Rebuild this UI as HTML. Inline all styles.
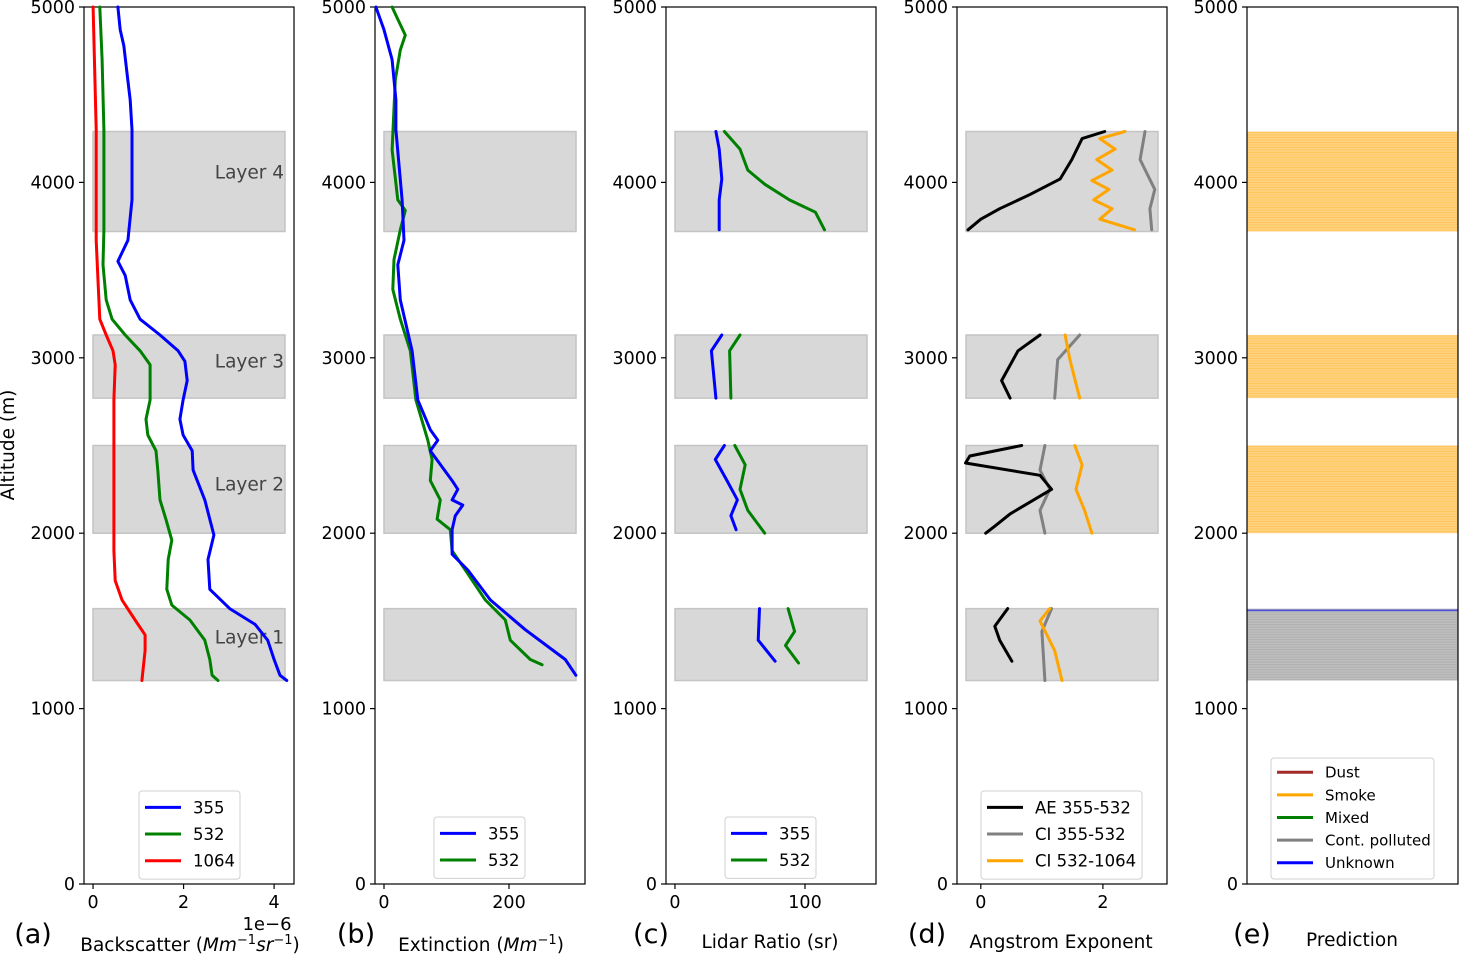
<!DOCTYPE html>
<html><head><meta charset="utf-8"><style>
html,body{margin:0;padding:0;background:#fff;}
svg{display:block;font-family:"DejaVu Sans","Liberation Sans",sans-serif;}
</style></head><body>
<svg id="chart" width="1460" height="955" viewBox="0 0 1460 955"></svg>
<script>
// ---------- data ----------
const layerNames = ["Layer 1","Layer 2","Layer 3","Layer 4"];
const layerBottoms = [1160,2000,2770,3720];
const layerTops = [1570,2500,3130,4290];
const altTicks = [0,1000,2000,3000,4000,5000];

// (a) backscatter (1e-6)
const bscAlt355 = [5000,4870,4780,4580,4470,4300,3900,3670,3550,3470,3330,3220,3130,3040,2980,2870,2760,2650,2560,2470,2360,2190,2080,1990,1850,1680,1570,1480,1390,1280,1190,1160];
const bsc355 = [0.55,0.60,0.68,0.77,0.82,0.86,0.86,0.77,0.55,0.71,0.82,1.04,1.48,1.88,2.03,2.08,1.99,1.92,1.99,2.19,2.21,2.47,2.58,2.67,2.54,2.58,3.02,3.58,3.86,4.0,4.13,4.28];
const bscAlt532 = [5000,4700,4300,3730,3530,3330,3220,3130,3040,2960,2760,2650,2560,2470,2360,2190,2080,1960,1850,1680,1590,1505,1390,1280,1190,1160];
const bsc532 = [0.15,0.2,0.24,0.24,0.22,0.29,0.42,0.71,1.04,1.26,1.26,1.17,1.21,1.39,1.43,1.48,1.61,1.74,1.66,1.63,1.74,2.14,2.47,2.58,2.63,2.76];
const bscAlt1064 = [5000,4300,3670,3440,3220,3130,3040,2960,2760,2470,1900,1730,1620,1505,1420,1330,1160];
const bsc1064 = [0,0.07,0.07,0.11,0.15,0.29,0.44,0.49,0.46,0.46,0.46,0.49,0.64,0.93,1.15,1.15,1.08];
const bscTicks = [0,2,4];

// (b) extinction
const extAlt355 = [5000,4870,4700,4470,4300,3900,3670,3530,3330,3040,2760,2590,2530,2470,2300,2250,2190,2160,2100,2020,1880,1790,1620,1450,1280,1190];
const ext355 = [-13,0,13,19,19,29,32,22,26,45,54,74,86,74,109,118,109,126,114,109,109,134,170,226,290,307];
const extAlt532 = [5000,4930,4840,4755,4585,4185,3900,3840,3730,3560,3390,3220,3040,2760,2530,2420,2300,2190,2080,2020,1900,1790,1620,1505,1390,1280,1250];
const ext532 = [13,22,34,26,18,13,22,34,26,16,14,26,42,51,70,77,74,90,85,106,109,130,162,194,202,234,253];
const extTicks = [0,200];

// (c) lidar ratio (null breaks between layers)
const lrAlt355 = [4290,4190,4020,3900,3730,null,3130,3040,2770,null,2500,2420,2300,2190,2100,2020,null,1570,1390,1270];
const lr355 = [31.5,34,36,34,34,null,36,28,31.5,null,38,31,40,48,43,47,null,65,64,77];
const lrAlt532 = [4290,4190,4070,3990,3900,3830,3730,null,3130,3040,2770,null,2500,2390,2250,2130,2000,null,1570,1440,1360,1260];
const lr532 = [38,50,56,69,88,108,115,null,50,42,43,null,46,54,50,56,69,null,87,92,85,95];
const lrTicks = [0,100];

// (d) Angstrom / colour indices
const aeAlt = [4290,4250,4130,4020,3930,3850,3790,3730,null,3130,3040,2870,2770,null,2500,2440,2400,2330,2250,2110,2040,2000,null,1570,1470,1390,1270];
const ae = [2.03,1.66,1.49,1.3,0.8,0.31,0,-0.21,null,0.97,0.61,0.34,0.48,null,0.67,-0.18,-0.25,0.97,1.16,0.48,0.23,0.08,null,0.44,0.23,0.31,0.51];
const ci355Alt = [4290,4130,3960,3850,3730,null,3130,2990,2770,null,2500,2360,2250,2130,2000,null,1570,1440,1160];
const ci355 = [2.69,2.61,2.85,2.77,2.8,null,1.62,1.26,1.21,null,1.05,0.97,1.13,0.97,1.05,null,1.16,1.0,1.05];
const ci532Alt = [4290,4250,4190,4130,4070,4010,3960,3900,3850,3790,3730,null,3130,2990,2770,null,2500,2390,2250,2130,2000,null,1570,1500,1330,1160];
const ci532 = [2.36,1.95,2.2,1.9,2.15,1.82,2.1,1.85,2.15,1.95,2.52,null,1.38,1.46,1.62,null,1.54,1.66,1.56,1.7,1.82,null,1.13,0.97,1.21,1.33];
const aeTicks = [0,2];

// (e) prediction bands
const predClass = ["Cont. polluted","Smoke","Smoke","Smoke"];
const legendA = ["355","532","1064"];
const legendB = ["355","532"];
const legendD = ["AE 355-532","CI 355-532","CI 532-1064"];
const legendE = ["Dust","Smoke","Mixed","Cont. polluted","Unknown"];
const classColors = {"Dust":"#a52a2a","Smoke":"#ffa500","Mixed":"#008000","Cont. polluted":"#808080","Unknown":"#0000ff"};

// ---------- drawing ----------
const svg = document.getElementById('chart');
const NS = 'http://www.w3.org/2000/svg';
function mk(tag, attrs, parent){ const e=document.createElementNS(NS,tag); for(const k in attrs) e.setAttribute(k,attrs[k]); (parent||svg).appendChild(e); return e; }
const Y0 = 884, YT = 7;
function yScale(a){ return Y0 - (a/5000)*(Y0-YT); }

const panels = [
 {id:'a', left:84, right:294, xmin:-0.2, xmax:4.44, ticks:bscTicks, letter:'(a)', lx:33},
 {id:'b', left:375, right:585, xmin:-14.4, xmax:321.6, ticks:extTicks, letter:'(b)', lx:356},
 {id:'c', left:666, right:876, xmin:-6.9, xmax:154.6, ticks:lrTicks, letter:'(c)', lx:651},
 {id:'d', left:957, right:1167, xmin:-0.39, xmax:3.05, ticks:aeTicks, letter:'(d)', lx:927},
 {id:'e', left:1247, right:1458, xmin:0, xmax:1, ticks:[], letter:'(e)', lx:1252}
];
panels.forEach(p=>{ p.x = v => p.left + (v-p.xmin)/(p.xmax-p.xmin)*(p.right-p.left); });

function line(p, alts, vals, color, name){
  let d='', pen=false;
  for(let i=0;i<alts.length;i++){
    if(alts[i]===null||vals[i]===null){pen=false;continue;}
    d += (pen?'L':'M') + p.x(vals[i]).toFixed(1)+','+yScale(alts[i]).toFixed(1);
    pen=true;
  }
  const e = mk('path',{d:d,fill:'none',stroke:color,'stroke-width':3,'stroke-linejoin':'round','stroke-linecap':'round'});
  
  
}

function legend(x,y,w,entries,colors,rowH,fs,name){
  const g = mk('g',{});
  
  
  mk('rect',{x:x,y:y,width:w,height:entries.length*rowH+8,rx:3,fill:'#fff',stroke:'#d0d0d0'},g);
  entries.forEach((t,i)=>{
    const cy = y+3+rowH*(i+0.5);
    const l = mk('line',{x1:x+6,x2:x+42,y1:cy,y2:cy,stroke:colors[i],'stroke-width':3},g);
    
    
    const tx = mk('text',{x:x+54,y:cy+fs*0.36,'font-size':fs,fill:'#000'},g);
    tx.textContent = t;
    
    
  });
}

panels.forEach(p=>{
  const g = mk('g',{});
  
  
  const L = p.left+9, R = p.right-9;
  if(p.id!=='e'){
    layerBottoms.forEach((b,i)=>{
      const r = mk('rect',{x:L,y:yScale(layerTops[i]),width:R-L,height:yScale(b)-yScale(layerTops[i]),fill:'#d8d8d8',stroke:'#c4c4c4','stroke-width':1.5},g);
      
      
    });
  } else {
    layerBottoms.forEach((b,i)=>{
      const col = classColors[predClass[i]];
      const y1 = yScale(layerTops[i]), y2 = yScale(b);
      const r = mk('rect',{x:p.left,y:y1,width:p.right-p.left,height:y2-y1,fill:col,'fill-opacity':0.5},g);
      
      
      for(let yy=y1+1; yy<y2; yy+=2.5){
        mk('line',{x1:p.left,x2:p.right,y1:yy,y2:yy,stroke:col,'stroke-opacity':0.25,'stroke-width':1},g);
      }
    });
    const ub = mk('line',{x1:p.left,x2:p.right,y1:yScale(1560),y2:yScale(1560),stroke:'#0000ff','stroke-opacity':0.6,'stroke-width':1.5},g);
    
    
  }
  const fr = mk('rect',{x:p.left,y:YT,width:p.right-p.left,height:Y0-YT,fill:'none',stroke:'#000','stroke-width':1.2},g);
  
  
  altTicks.forEach(a=>{
    const yy = yScale(a);
    mk('line',{x1:p.left-5,x2:p.left,y1:yy,y2:yy,stroke:'#000','stroke-width':1.2},g);
    const t = mk('text',{x:p.left-9,y:yy+6,'text-anchor':'end','font-size':17.5},g);
    t.textContent = a;
    
    
  });
  p.ticks.forEach(v=>{
    const xx = p.x(v);
    mk('line',{x1:xx,x2:xx,y1:Y0,y2:Y0+5,stroke:'#000','stroke-width':1.2},g);
    const t = mk('text',{x:xx,y:Y0+24,'text-anchor':'middle','font-size':17.5},g);
    t.textContent = v;
    
    
  });
  const lt = mk('text',{x:p.lx,y:943,'text-anchor':'middle','font-size':27},g);
  lt.textContent = p.letter;
  
  
});

const pa=panels[0], pb=panels[1], pc=panels[2], pd=panels[3], pe=panels[4];
layerNames.forEach((n,i)=>{
  const t = mk('text',{x:284,y:yScale((layerBottoms[i]+layerTops[i])/2)+1+(i===3?-4:0)+(i===0?-2:0),'text-anchor':'end','font-size':18.5,fill:'#444'});
  t.textContent = n;
  
  
});

line(pa,bscAlt1064,bsc1064,'#ff0000','backscatter-1064');
line(pa,bscAlt532,bsc532,'#008000','backscatter-532');
line(pa,bscAlt355,bsc355,'#0000ff','backscatter-355');
line(pb,extAlt532,ext532,'#008000','extinction-532');
line(pb,extAlt355,ext355,'#0000ff','extinction-355');
line(pc,lrAlt355,lr355,'#0000ff','lidar-ratio-355');
line(pc,lrAlt532,lr532,'#008000','lidar-ratio-532');
line(pd,ci355Alt,ci355,'#808080','ci-355-532');
line(pd,aeAlt,ae,'#000000','ae-355-532');
line(pd,ci532Alt,ci532,'#ffa500','ci-532-1064');

legend(139,791,101,legendA,['#0000ff','#008000','#ff0000'],26.7,16.5,'legend-a');
legend(434,817,91,legendB,['#0000ff','#008000'],26.7,16.5,'legend-b');
legend(725,817,91,legendB,['#0000ff','#008000'],26.7,16.5,'legend-c');
legend(981,791,161,legendD,['#000','#808080','#ffa500'],26.7,16.5,'legend-d');
legend(1271,758,163,legendE,legendE.map(c=>classColors[c]),22.6,15,'legend-e');

function txt(x,y,s,fs,name,extra){ const t=mk('text',Object.assign({x:x,y:y,'text-anchor':'middle','font-size':fs},extra||{})); t.innerHTML=s;   return t; }
txt(190,951,'Backscatter (<tspan font-style="italic">Mm</tspan><tspan font-size="13" dy="-7">−1</tspan><tspan font-style="italic" dy="7">sr</tspan><tspan font-size="13" dy="-7">−1</tspan><tspan dy="7">)</tspan>',18.5,'x-axis-title-a');
txt(267,930,'1e−6',18,'x-offset-label');
txt(481,951,'Extinction (<tspan font-style="italic">Mm</tspan><tspan font-size="13" dy="-7">−1</tspan><tspan dy="7">)</tspan>',18.5,'x-axis-title-b');
txt(770,948,'Lidar Ratio (sr)',18.5,'x-axis-title-c');
txt(1061,948,'Angstrom Exponent',18.5,'x-axis-title-d');
txt(1352,946,'Prediction',18.5,'x-axis-title-e');
txt(14,445,'Altitude (m)',18.5,'y-axis-title',{transform:'rotate(-90 14 445)'});
</script>
</body></html>
